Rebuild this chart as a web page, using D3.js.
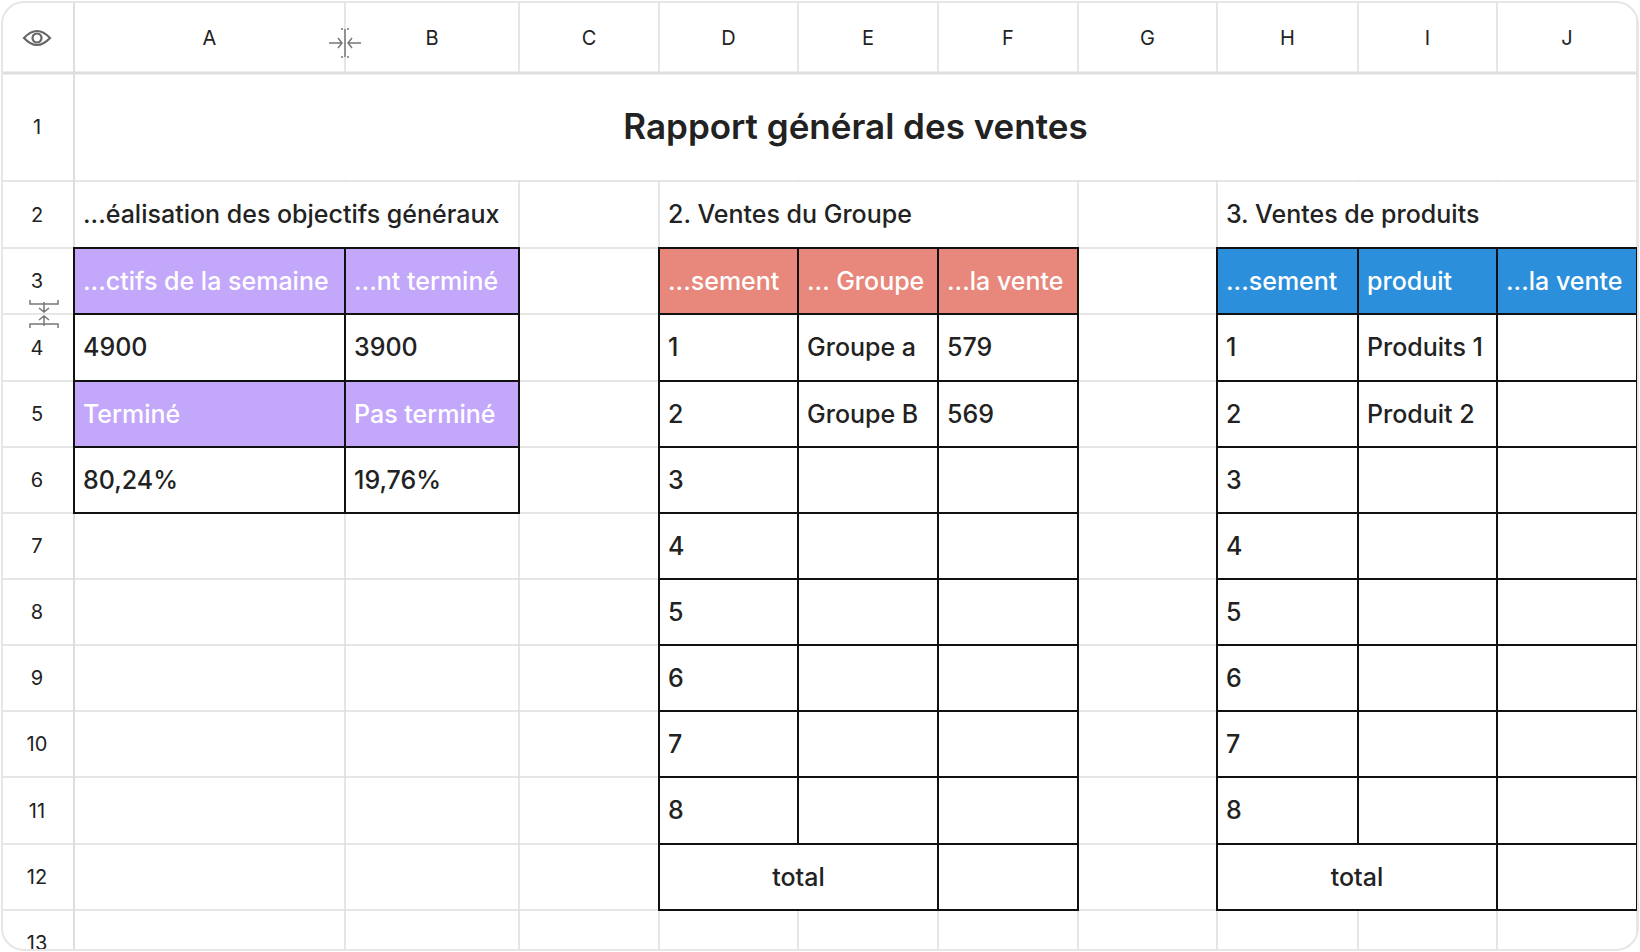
<!doctype html>
<html lang="fr">
<head>
<meta charset="utf-8">
<title>Rapport général des ventes</title>
<script src="https://cdn.jsdelivr.net/npm/d3@7"></script>
<style>
  body { margin: 0; background: #fff; }
  svg { font-family: 'Inter', 'Noto Sans', sans-serif; }
</style>
</head>
<body>
<svg id="sheet" width="1640" height="952"></svg>
<script>
// column / row labels
var colNames = ['A','B','C','D','E','F','G','H','I','J'];
var rowNames = d3.range(1, 14);
// right edges of the columns (pixel grid of the sheet)
var colEdges = [74, 345, 519, 659, 798, 938, 1078, 1217, 1358, 1497, 1637];
var rowEdges = [73, 181, 248, 314, 381, 447, 513, 579, 645, 711, 777, 844, 910, 976];

var title = 'Rapport général des ventes';
var sectionTitles = [
  {col: 0, span: 2, text: '...éalisation des objectifs généraux'},
  {col: 3, span: 3, text: '2. Ventes du Groupe'},
  {col: 7, span: 3, text: '3. Ventes de produits'}
];

// table 1
var t1Head = ['...ctifs de la semaine', '...nt terminé'];
var t1Values = ['4900', '3900'];
var t1Head2 = ['Terminé', 'Pas terminé'];
var t1Pct = ['80,24%', '19,76%'];

// table 2
var t2Head = ['...sement', '... Groupe', '...la vente'];
var t2Rank = ['1','2','3','4','5','6','7','8'];
var t2Group = ['Groupe a', 'Groupe B', '', '', '', '', '', ''];
var t2Sales = ['579', '569', '', '', '', '', '', ''];

// table 3
var t3Head = ['...sement', 'produit', '...la vente'];
var t3Rank = ['1','2','3','4','5','6','7','8'];
var t3Prod = ['Produits 1', 'Produit 2', '', '', '', '', '', ''];
var t3Sales = ['', '', '', '', '', '', '', ''];

var svg = d3.select('#sheet');
var x = function(c) { return colEdges[c]; };
var y = function(r) { return rowEdges[r - 1]; };   // top of row r

svg.append('defs').append('clipPath').attr('id', 'clip')
  .append('rect').attr('x', 2).attr('y', 2).attr('width', 1636).attr('height', 948).attr('rx', 22);
var g = svg.append('g').attr('clip-path', 'url(#clip)');
g.append('rect').attr('x', 0).attr('y', 0).attr('width', 1640).attr('height', 952).attr('fill', '#fff');

// grid lines
var grid = g.append('g').attr('stroke', '#dedede').attr('stroke-width', 1.5);
colEdges.forEach(function(cx) {
  grid.append('line').attr('x1', cx).attr('x2', cx).attr('y1', 0).attr('y2', 952);
});
rowEdges.forEach(function(ry) {
  grid.append('line').attr('x1', 0).attr('x2', 1640).attr('y1', ry).attr('y2', ry);
});
// merged cells: erase inner grid lines
function eraseInner(c0, c1, r) {
  g.append('rect').attr('x', x(c0) + 1).attr('y', y(r) + 1)
    .attr('width', x(c1) - x(c0) - 2).attr('height', y(r + 1) - y(r) - 2).attr('fill', '#fff');
}
eraseInner(0, 10, 1);
sectionTitles.forEach(function(s) { eraseInner(s.col, s.col + s.span, 2); });
g.append('line').attr('x1', 0).attr('x2', 1640).attr('y1', y(1)).attr('y2', y(1))
  .attr('stroke', '#dedede').attr('stroke-width', 3);
g.append('line').attr('x1', x(0)).attr('x2', x(0)).attr('y1', 0).attr('y2', 952)
  .attr('stroke', '#dedede').attr('stroke-width', 2);

// headers
g.selectAll('text.colh').data(colNames).join('text')
  .attr('x', function(d, i) { return (x(i) + x(i + 1)) / 2; })
  .attr('y', 38).attr('dy', '0.35em').attr('text-anchor', 'middle')
  .attr('font-size', 20).attr('fill', '#222').text(function(d) { return d; });
g.selectAll('text.rowh').data(rowNames).join('text')
  .attr('x', 37)
  .attr('y', function(d) { return (y(d) + y(d + 1)) / 2; })
  .attr('dy', '0.35em').attr('text-anchor', 'middle')
  .attr('font-size', 20).attr('fill', '#222').text(function(d) { return d; });

// eye icon
var eye = g.append('g').attr('transform', 'translate(37,38)').attr('fill', 'none').attr('stroke', '#666').attr('stroke-width', 2.2);
eye.append('path').attr('d', 'M-13,0 Q0,-14 13,0 Q0,14 -13,0 Z');
eye.append('circle').attr('r', 4.5);
// resize handles
var h1 = g.append('g').attr('transform', 'translate(345,43)').attr('stroke', '#777').attr('stroke-width', 1.5).attr('fill', 'none');
h1.append('path').attr('d', 'M0,-14 v28 M-16,-14 v0 M-16,0 h13 M-7,-5 l4,5 l-4,5 M-2,-14 h-2 M-2,14 h-2');
h1.append('path').attr('d', 'M16,0 h-13 M7,-5 l-4,5 l4,5 M2,-14 h2 M2,14 h2');
var h2 = g.append('g').attr('transform', 'translate(44,314)').attr('stroke', '#777').attr('stroke-width', 1.5).attr('fill', 'none');
h2.append('path').attr('d', 'M-14,-14 v4 h28 v-4 M0,-12 v10 M-5,-6 l5,4 l5,-4');
h2.append('path').attr('d', 'M-14,14 v-4 h28 v4 M0,12 v-10 M-5,6 l5,-4 l5,4');

// title
g.append('text').attr('x', (x(0) + x(10)) / 2).attr('y', (y(1) + y(2)) / 2)
  .attr('dy', '0.35em').attr('text-anchor', 'middle').attr('font-size', 35)
  .attr('font-weight', 600).attr('fill', '#222').text(title);

g.selectAll('text.sec').data(sectionTitles).join('text')
  .attr('x', function(d) { return x(d.col) + 9; })
  .attr('y', (y(2) + y(3)) / 2).attr('dy', '0.35em')
  .attr('font-size', 25).attr('font-weight', 500).attr('fill', '#222')
  .text(function(d) { return d.text; });

var cells = [];
function cell(c0, c1, r, text, fill, color, anchor) {
  cells.push({c0: c0, c1: c1, r: r, text: text, fill: fill || '#fff', color: color || '#222', anchor: anchor || 'start'});
}
var purple = '#c3a7fb', red = '#e8877b', blue = '#2b8fdc';
t1Head.forEach(function(t, i) { cell(i, i + 1, 3, t, purple, '#fff'); });
t1Values.forEach(function(t, i) { cell(i, i + 1, 4, t); });
t1Head2.forEach(function(t, i) { cell(i, i + 1, 5, t, purple, '#fff'); });
t1Pct.forEach(function(t, i) { cell(i, i + 1, 6, t); });

t2Head.forEach(function(t, i) { cell(3 + i, 4 + i, 3, t, red, '#fff'); });
t2Rank.forEach(function(t, i) {
  cell(3, 4, 4 + i, t); cell(4, 5, 4 + i, t2Group[i]); cell(5, 6, 4 + i, t2Sales[i]);
});
cell(3, 5, 12, 'total', null, null, 'middle'); cell(5, 6, 12, '');

t3Head.forEach(function(t, i) { cell(7 + i, 8 + i, 3, t, blue, '#fff'); });
t3Rank.forEach(function(t, i) {
  cell(7, 8, 4 + i, t); cell(8, 9, 4 + i, t3Prod[i]); cell(9, 10, 4 + i, t3Sales[i]);
});
cell(7, 9, 12, 'total', null, null, 'middle'); cell(9, 10, 12, '');

var cg = g.selectAll('g.cell').data(cells).join('g').attr('class', 'cell');
cg.append('rect')
  .attr('x', function(d) { return x(d.c0); })
  .attr('y', function(d) { return y(d.r); })
  .attr('width', function(d) { return x(d.c1) - x(d.c0); })
  .attr('height', function(d) { return y(d.r + 1) - y(d.r); })
  .attr('fill', function(d) { return d.fill; })
  .attr('stroke', '#111').attr('stroke-width', 2);
cg.append('text')
  .attr('x', function(d) { return d.anchor === 'middle' ? (x(d.c0) + x(d.c1)) / 2 : x(d.c0) + 9; })
  .attr('y', function(d) { return (y(d.r) + y(d.r + 1)) / 2; })
  .attr('dy', '0.35em').attr('text-anchor', function(d) { return d.anchor; })
  .attr('font-size', 25).attr('font-weight', 500)
  .attr('fill', function(d) { return d.color; })
  .text(function(d) { return d.text; });

svg.append('rect').attr('x', 2).attr('y', 2).attr('width', 1636).attr('height', 948).attr('rx', 22)
  .attr('fill', 'none').attr('stroke', '#e6e6e6').attr('stroke-width', 2);
</script>
</body>
</html>
